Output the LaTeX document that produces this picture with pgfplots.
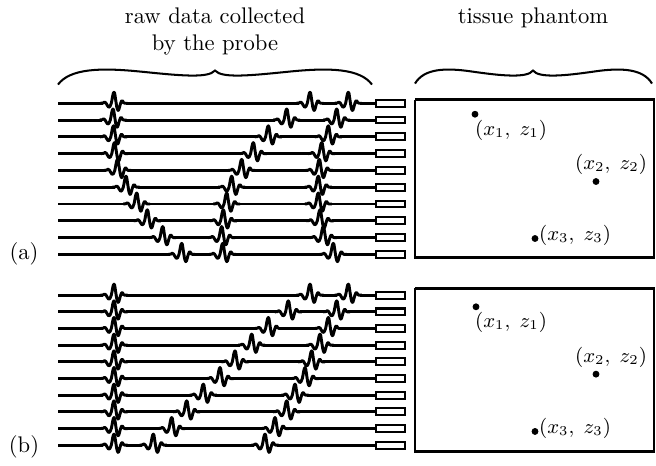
\documentclass[border=0pt]{standalone}
\usepackage{pgfplots}
\usepackage{pgfplotstable}
\pgfplotsset{compat=1.18}

% wavelet shape (offset from pulse centre, px; height above trace, px)
\pgfplotstableread{
dx dy
-13.5 0
-10.8 0.3
-9.45 1.2
-8.1 0.3
-6.75 -2
-5.4 -4
-4.05 -3.3
-2.7 0
-2.03 3.3
-1.35 7.2
-0.68 10
0 11
0.68 10
1.35 5.5
2.03 1
2.7 -3.3
3.38 -6
4.05 -7.2
4.73 -6.6
5.4 -4.4
6.08 -1.8
6.75 0.3
7.43 2
8.1 2.6
8.78 2
9.45 0.7
10.8 0
13.5 0
}\wavelet

\pgfplotstableread{
dx dy
-11.5 0
11.5 0
}\eraser

% element positions of the probe (trace heights)
\pgfplotstableread{
x y
390.5 100.7
390.5 117.5
390.5 134.3
390.5 151.1
390.5 167.9
390.5 184.7
390.5 201.5
390.5 218.3
390.5 235.1
390.5 251.9
390.5 292.7
390.5 309.4
390.5 326.0
390.5 342.7
390.5 359.4
390.5 376.1
390.5 392.7
390.5 409.4
390.5 426.1
390.5 442.7
}\elements

\pgfdeclareplotmark{element}{%
  \pgfpathrectangle{\pgfpoint{-6.5pt}{-1.5pt}}{\pgfpoint{13pt}{3pt}}%
  \pgfusepathqfillstroke}

\newcommand\trace[1]{\addplot[black, line width=1.3pt, forget plot] coordinates {(58,#1) (376,#1)};}
\newcommand\erase[2]{\addplot[white, line width=2.4pt, forget plot] table[x expr=\thisrow{dx}+#1, y expr=#2] {\eraser};}
\newcommand\wave[2]{\addplot[black, line width=1.3pt, line join=round, forget plot] table[x expr=\thisrow{dx}+#1, y expr=#2-\thisrow{dy}] {\wavelet};}

% echo arrival positions: panel (a)
\newcommand\wavesA[1]{%
#1{114}{100.7}#1{310}{100.7}#1{348.3}{100.7}%
#1{113}{117.5}#1{286.7}{117.5}#1{336.7}{117.5}%
#1{113.5}{134.3}#1{268.3}{134.3}#1{328.3}{134.3}%
#1{114.5}{151.1}#1{253.3}{151.1}#1{321.7}{151.1}%
#1{117.5}{167.9}#1{241.7}{167.9}#1{319.3}{167.9}%
#1{126}{184.7}#1{231.7}{184.7}#1{318.3}{184.7}%
#1{136.7}{201.5}#1{226.7}{201.5}#1{318.3}{201.5}%
#1{147.3}{218.3}#1{223.3}{218.3}#1{320}{218.3}%
#1{162.7}{235.1}#1{221.7}{235.1}#1{323.3}{235.1}%
#1{181.7}{251.9}#1{222.7}{251.9}#1{333.3}{251.9}%
}
% echo arrival positions: panel (b)
\newcommand\wavesB[1]{%
#1{114}{292.7}#1{310}{292.7}#1{348.3}{292.7}%
#1{114}{309.4}#1{288.3}{309.4}#1{336.7}{309.4}%
#1{114}{326.0}#1{268.3}{326.0}#1{328.3}{326.0}%
#1{114}{342.7}#1{251.7}{342.7}#1{320}{342.7}%
#1{114}{359.4}#1{235}{359.4}#1{311.7}{359.4}%
#1{114}{376.1}#1{220}{376.1}#1{305}{376.1}%
#1{114}{392.7}#1{203.3}{392.7}#1{295}{392.7}%
#1{114}{409.4}#1{186.7}{409.4}#1{286.7}{409.4}%
#1{114}{426.1}#1{171.7}{426.1}#1{275}{426.1}%
#1{114}{442.7}#1{153.3}{442.7}#1{265}{442.7}%
}

\begin{document}
\begin{tikzpicture}
\begin{axis}[
  scale only axis, width=290.3pt, height=201.3pt,
  xmin=0, xmax=656, ymin=0, ymax=455, y dir=reverse,
  hide axis, clip=false]
\path (axis cs:0,0) rectangle (axis cs:656,455);
% traces
\trace{100.7}\trace{117.5}\trace{134.3}\trace{151.1}\trace{167.9}
\trace{184.7}\trace{201.5}\trace{218.3}\trace{235.1}\trace{251.9}
\trace{292.7}\trace{309.4}\trace{326.0}\trace{342.7}\trace{359.4}
\trace{376.1}\trace{392.7}\trace{409.4}\trace{426.1}\trace{442.7}
\wavesA\erase \wavesB\erase
\wavesA\wave \wavesB\wave
% probe elements
\addplot[only marks, mark=element, mark options={draw=black, fill=white, line width=0.9pt}, forget plot]
  table[x=x, y=y] {\elements};
% phantoms
\addplot[black, line width=1pt, forget plot] coordinates {(415,97) (654,97) (654,255) (415,255) (415,97)};
\addplot[black, line width=1pt, forget plot] coordinates {(415,286) (654,286) (654,449) (415,449) (415,286)};
% scatterers
\addplot[only marks, mark=*, mark size=1.3pt, black, forget plot] coordinates {(475,111.7) (596,179) (535,236)};
\addplot[only marks, mark=*, mark size=1.3pt, black, forget plot] coordinates {(476,304.3) (596,371.7) (535,429)};
\node[font=\small] at (axis cs:511,127.5) {$(x_1,\; z_1)$};
\node[font=\small] at (axis cs:611,162) {$(x_2,\; z_2)$};
\node[font=\small] at (axis cs:575,233) {$(x_3,\; z_3)$};
\node[font=\small] at (axis cs:511,320) {$(x_1,\; z_1)$};
\node[font=\small] at (axis cs:611,355) {$(x_2,\; z_2)$};
\node[font=\small] at (axis cs:575,426) {$(x_3,\; z_3)$};
% braces
\draw[line width=0.9pt] (axis cs:58,82) .. controls (axis cs:70,66) and (axis cs:100,65) .. (axis cs:140,69)
  .. controls (axis cs:180,73) and (axis cs:208,76) .. (axis cs:215,68)
  .. controls (axis cs:222,76) and (axis cs:250,73) .. (axis cs:290,69)
  .. controls (axis cs:330,65) and (axis cs:360,66) .. (axis cs:372,82);
\draw[line width=0.9pt] (axis cs:415,81) .. controls (axis cs:424,66) and (axis cs:445,65) .. (axis cs:472,69)
  .. controls (axis cs:500,73) and (axis cs:527,76) .. (axis cs:533,68)
  .. controls (axis cs:539,76) and (axis cs:566,73) .. (axis cs:594,69)
  .. controls (axis cs:621,65) and (axis cs:643,66) .. (axis cs:652,81);
% titles
\node[align=center] at (axis cs:215,29) {raw data collected\\by the probe};
\node at (axis cs:533,15) {tissue phantom};
\node at (axis cs:24,251.5) {(a)};
\node at (axis cs:24,444) {(b)};
\end{axis}
\end{tikzpicture}
\end{document}
